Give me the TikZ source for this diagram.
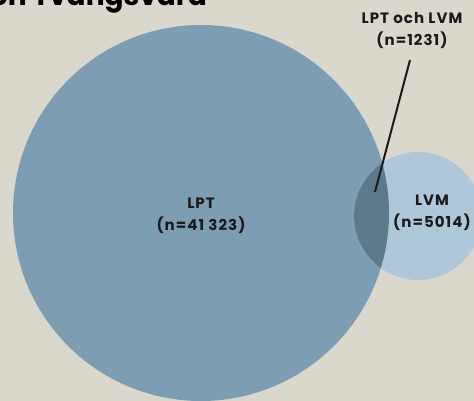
\documentclass[tikz,border=0pt]{standalone}
\usepackage{fontspec}
\setmainfont{Poppins}
\newfontfamily\labfont[LetterSpace=7]{Poppins}
\definecolor{bgc}{HTML}{DAD8CC}
\definecolor{bigc}{HTML}{7D9DB3}
\definecolor{smallc}{HTML}{AFC8D9}
\definecolor{ovc}{HTML}{5E7A8A}
\definecolor{txt}{HTML}{1A1A1A}
\tikzset{
  setc/.style={circle, inner sep=0pt, outer sep=0pt},
  lab/.style={align=center, font=\labfont\fontsize{15}{22}\selectfont\bfseries, text=txt, inner sep=1pt},
  lead/.style={draw=txt, line width=2pt}
}
\begin{document}
\begin{tikzpicture}[x=1pt, y=-1pt]
\useasboundingbox (0,0) rectangle (474,401);
\clip (0,0) rectangle (474,401);
\fill[bgc] (0,0) rectangle (474,401);
\node[anchor=base east, font=\fontsize{28}{30}\selectfont\bfseries, text=black, inner sep=0pt] (title) at (207,6) {population Tvångsvård};
\node[setc, fill=bigc, minimum size=376pt] (lpt) at (201,213) {};
\node[setc, fill=smallc, minimum size=128pt] (lvm) at (418,216) {};
\begin{scope}
  \clip (201,213) circle[radius=188pt];
  \fill[ovc] (418,216) circle[radius=64pt];
\end{scope}
\node[lab] (lptlab) at (201,216) {LPT\\(n=41 323)};
\node[lab] (lvmlab) at (432,213) {LVM\\(n=5014)};
\node[lab] (both) at (412,31) {LPT och LVM\\(n=1231)};
\coordinate (top) at (410,60);
\coordinate (ov) at (375,192);
\draw[lead] (top) -- (ov);
\end{tikzpicture}
\end{document}
